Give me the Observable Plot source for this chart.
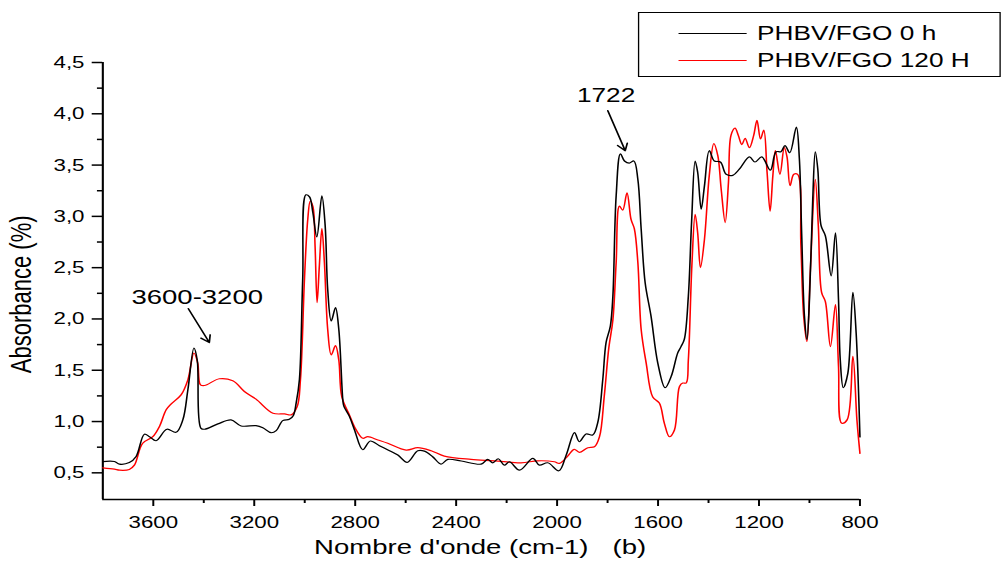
<!DOCTYPE html>
<html>
<head>
<meta charset="utf-8">
<script src="https://cdn.jsdelivr.net/npm/d3@7"></script>
<script src="https://cdn.jsdelivr.net/npm/@observablehq/plot@0.6"></script>
<style>
  html, body { margin: 0; padding: 0; background: #fff; overflow: hidden; }
  /* the whole figure is laid out at 768 px and widened to 1006 px */
  #figure {
    position: relative; width: 768px; height: 569px;
    transform: scaleX(1.3099); transform-origin: 0 0;
    font-family: "Liberation Sans", Arial, sans-serif;
  }
  #legend {
    position: absolute; left: 487px; top: 12px; width: 277px; height: 65px;
    border: 1.3px solid #000; box-sizing: border-box; background: #fff;
  }
  .item { position: absolute; left: 0; height: 24px; display: flex; align-items: center; }
  .swatch { width: 52px; height: 0; margin-left: 30px; margin-right: 8px; border-top: 1.2px solid; }
  .label { font-size: 20px; color: #000; white-space: nowrap; }
</style>
</head>
<body>
<div id="figure">
  <div id="chart"></div>
  <div id="legend"></div>
</div>
<script>
// FTIR spectra of PHBV/FGO before and after 120 h
const seriesNames = ["PHBV/FGO 0 h", "PHBV/FGO 120 H"];
const seriesColors = ["#000000", "#ff0000"];

const wn0 = [3800, 3754, 3734, 3695, 3668, 3635, 3615, 3589, 3546, 3510, 3483, 3463, 3439, 3426, 3411, 3397,
  3344, 3292, 3252, 3193, 3166, 3133, 3113, 3087, 3061, 3045, 3034, 3021, 3008, 2995, 2981, 2968, 2952, 2932,
  2919, 2909, 2895, 2878, 2865, 2849, 2845, 2823, 2803, 2770, 2740, 2704, 2664, 2631, 2594, 2552, 2526, 2493,
  2460, 2433, 2380, 2301, 2275, 2255, 2233, 2209, 2189, 2149, 2096, 2070, 2037, 1993, 1964, 1931, 1912, 1885,
  1859, 1839, 1819, 1806, 1789, 1779, 1766, 1749, 1733, 1714, 1696, 1680, 1667, 1651, 1628, 1601, 1572, 1548,
  1522, 1509, 1496, 1480, 1467, 1453, 1443, 1429, 1416, 1397, 1377, 1353, 1330, 1304, 1278, 1238, 1216, 1189,
  1155, 1132, 1113, 1097, 1078, 1052, 1040, 1031, 1020, 1010, 1000, 987, 977, 967, 954, 937, 914, 897, 885,
  878, 866, 848, 828, 815, 800];
const abs0 = [0.61, 0.61, 0.585, 0.6, 0.66, 0.876, 0.852, 0.813, 0.925, 0.895, 1.016, 1.31, 1.717, 1.6, 0.934, 0.925,
  0.977, 1.016, 0.957, 0.96, 0.94, 0.891, 0.911, 1.009, 1.022, 1.06, 1.18, 1.41, 2.39, 3.21, 3.19, 3.04, 2.8, 3.2,
  2.91, 2.29, 1.98, 2.11, 1.9, 1.21, 1.15, 1.05, 0.92, 0.725, 0.81, 0.764, 0.715, 0.673, 0.602, 0.715, 0.712, 0.657,
  0.585, 0.631, 0.615, 0.585, 0.631, 0.598, 0.637, 0.575, 0.608, 0.526, 0.641, 0.575, 0.598, 0.52, 0.673, 0.891, 0.803, 0.879,
  0.869, 0.99, 1.41, 1.77, 1.93, 2.22, 3.2, 3.61, 3.54, 3.52, 3.54, 3.36, 2.88, 2.35, 2.03, 1.57, 1.33, 1.44,
  1.67, 1.73, 1.8, 2.22, 2.95, 3.54, 3.43, 3.07, 3.3, 3.64, 3.54, 3.53, 3.41, 3.4, 3.46, 3.58, 3.53, 3.58,
  3.45, 3.63, 3.63, 3.69, 3.62, 3.87, 3.56, 2.84, 2.03, 1.8, 2.19, 3.17, 3.63, 3.46, 2.91, 2.81, 2.42, 2.84, 2.19,
  1.6, 1.33, 1.47, 2.26, 1.86, 0.85];

const wn120 = [3800, 3754, 3734, 3695, 3675, 3642, 3602, 3576, 3549, 3529, 3490, 3463, 3439, 3424, 3413, 3397,
  3338, 3285, 3239, 3193, 3126, 3080, 3054, 3030, 3017, 3001, 2988, 2978, 2967, 2959, 2951, 2942, 2932, 2922,
  2909, 2895, 2878, 2865, 2853, 2823, 2803, 2770, 2750, 2710, 2671, 2598, 2552, 2499, 2447, 2341, 2249, 2143,
  2077, 2011, 1991, 1958, 1932, 1912, 1878, 1852, 1832, 1813, 1795, 1779, 1766, 1753, 1740, 1723, 1707, 1694,
  1680, 1667, 1647, 1621, 1595, 1575, 1555, 1535, 1515, 1502, 1489, 1480, 1466, 1453, 1443, 1432, 1416, 1397,
  1379, 1363, 1350, 1334, 1321, 1311, 1295, 1282, 1268, 1255, 1238, 1221, 1208, 1194, 1181, 1168, 1156, 1145,
  1135, 1117, 1100, 1089, 1077, 1062, 1047, 1034, 1023, 1010, 997, 977, 965, 952, 937, 917, 897, 885, 872,
  851, 828, 812, 800];
const abs120 = [0.549, 0.536, 0.526, 0.533, 0.575, 0.788, 0.852, 0.95, 1.114, 1.172, 1.26, 1.407, 1.668, 1.57, 1.358, 1.351,
  1.417, 1.397, 1.293, 1.218, 1.081, 1.074, 1.065, 1.146, 1.407, 2.39, 2.97, 3.15, 3.09, 2.71, 2.16, 2.52, 2.88, 2.55,
  1.9, 1.65, 1.74, 1.6, 1.24, 1.065, 0.95, 0.837, 0.852, 0.82, 0.788, 0.722, 0.745, 0.715, 0.663, 0.631, 0.617, 0.598,
  0.617, 0.608, 0.592, 0.663, 0.729, 0.7, 0.745, 0.754, 0.852, 1.25, 1.72, 1.99, 2.55, 3.1, 3.06, 3.23, 2.97, 2.88,
  2.55, 1.9, 1.57, 1.24, 1.18, 0.983, 0.852, 0.918, 1.342, 1.375, 1.375, 1.6, 2.52, 3.02, 2.84, 2.5, 2.78, 3.4,
  3.71, 3.59, 3.27, 2.94, 3.33, 3.79, 3.86, 3.79, 3.7, 3.76, 3.67, 3.79, 3.935, 3.755, 3.84, 3.43, 3.05, 3.4,
  3.64, 3.41, 3.67, 3.58, 3.3, 3.41, 3.41, 2.72, 2.03, 1.78, 2.45, 3.36, 2.91, 2.26, 2.17, 1.73, 2.14, 1.54, 0.983,
  1.016, 1.635, 1.016, 0.69];

// axis settings
const xDomain = [3800, 800];
const yDomain = [0.24, 4.5];
const xMajor = [3600, 3200, 2800, 2400, 2000, 1600, 1200, 800];
const xMinor = [3400, 3000, 2600, 2200, 1800, 1400, 1000];
const yMajor = [0.5, 1, 1.5, 2, 2.5, 3, 3.5, 4, 4.5];
const yMinor = [0.75, 1.25, 1.75, 2.25, 2.75, 3.25, 3.75, 4.25];
const xTitle = "Nombre d'onde (cm-1)";
const panelTag = "(b)";
// vertical axis title, anchored left of the axis in data units
const yTitle = [{text: "Absorbance (%)", x: 4120, y: 2.24}];

// band annotations: label position and arrow from/to
const notes = [
  {text: "3600-3200", x: 3426, y: 2.21, x1: 3461, y1: 2.10, x2: 3378, y2: 1.77, size: 21},
  {text: "1722", x: 1806, y: 4.18, x1: 1799, y1: 4.03, x2: 1730, y2: 3.64, size: 20}
];

const rows = [];
wn120.forEach((w, i) => rows.push({series: seriesNames[1], wn: w, a: abs120[i]}));
wn0.forEach((w, i) => rows.push({series: seriesNames[0], wn: w, a: abs0[i]}));

const decimalComma = d => d.toFixed(1).replace(".", ",");

const chart = Plot.plot({
  width: 768,
  height: 569,
  marginLeft: 78,
  marginRight: 112,
  marginTop: 62,
  marginBottom: 70,
  style: {fontFamily: "'Liberation Sans', Arial, sans-serif", fontSize: "17px", background: "#fff", overflow: "visible", color: "#000"},
  x: {domain: xDomain},
  y: {domain: yDomain},
  color: {domain: seriesNames, range: seriesColors},
  marks: [
    Plot.axisX({ticks: xMajor, tickSize: 7, tickPadding: 9, tickFormat: d => String(d), label: null, strokeWidth: 1.5}),
    Plot.axisX({ticks: xMinor, tickSize: 4, tickFormat: () => "", label: null, strokeWidth: 1.5}),
    Plot.axisY({ticks: yMajor, tickSize: 8, tickPadding: 6, tickFormat: decimalComma, label: null, strokeWidth: 1.5}),
    Plot.axisY({ticks: yMinor, tickSize: 4, tickFormat: () => "", label: null, strokeWidth: 1.5}),
    Plot.ruleX([xDomain[0]], {stroke: "#000", strokeWidth: 1.6}),
    Plot.ruleY([yDomain[0]], {stroke: "#000", strokeWidth: 1.6}),
    Plot.line(rows, {x: "wn", y: "a", z: "series", stroke: "series", strokeWidth: 1.2, curve: "catmull-rom"}),
    Plot.arrow(notes, {x1: "x1", y1: "y1", x2: "x2", y2: "y2", stroke: "#000", strokeWidth: 1.3, headLength: 9}),
    Plot.text(notes, {x: "x", y: "y", text: "text", fontSize: d => d.size, fill: "#000"}),
    Plot.text([xTitle], {frameAnchor: "bottom", dx: -23, dy: 54, fontSize: 21, fill: "#000"}),
    Plot.text([panelTag], {frameAnchor: "bottom", dx: 113, dy: 54, fontSize: 21, fill: "#000"}),
    Plot.text(yTitle, {x: "x", y: "y", text: "text", rotate: -90, fontSize: 22, fill: "#000", clip: false})
  ]
});
document.getElementById("chart").appendChild(chart);

// legend box
const legend = document.getElementById("legend");
seriesNames.forEach((name, i) => {
  const item = document.createElement("div");
  item.className = "item";
  item.style.top = (8 + i * 27) + "px";
  const sw = document.createElement("span");
  sw.className = "swatch";
  sw.style.borderTopColor = seriesColors[i];
  const lb = document.createElement("span");
  lb.className = "label";
  lb.textContent = name;
  item.appendChild(sw);
  item.appendChild(lb);
  legend.appendChild(item);
});
</script>
</body>
</html>
